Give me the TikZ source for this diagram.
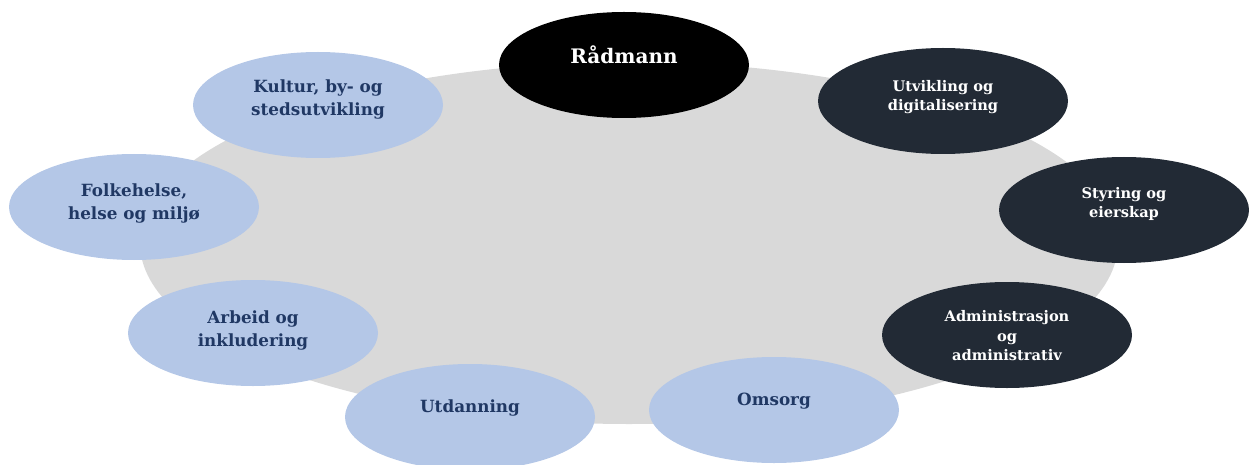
\documentclass[tikz,border=0pt]{standalone}
\usepackage{fontspec}
\setmainfont{DejaVu Serif}
\usepackage{xcolor}
\usetikzlibrary{shapes.geometric, positioning}

\definecolor{ringgrey}{HTML}{D9D9D9}
\definecolor{lightunit}{HTML}{B4C7E7}
\definecolor{darkunit}{HTML}{222A35}
\definecolor{navytext}{HTML}{203864}

\begin{document}
\begin{tikzpicture}[
    x=1pt, y=-1pt,
    unit/.style={ellipse, minimum width=250pt, minimum height=106pt, inner sep=0pt},
    lightunit/.style={unit, fill=lightunit},
    darkunit/.style={unit, fill=darkunit},
    lighttext/.style={align=center, text=navytext, font=\fontsize{16.8}{23}\selectfont\bfseries},
    darktext/.style={align=center, text=white, font=\fontsize{14.6}{19.5}\selectfont\bfseries}
]
\useasboundingbox (0,0) rectangle (1249,465);

% background ring
\node[ellipse, fill=ringgrey, minimum width=978pt, minimum height=362pt, inner sep=0pt] (ring) at (629,243) {};

% top
\node[unit, fill=black] (raadmann) at (624,65) {};
\node[align=center, text=white, font=\fontsize{20}{24}\selectfont\bfseries] (raadmanntxt) at (624,55) {Rådmann};

% staff units (right)
\node[darkunit] (utvikling) at (943,101) {};
\node[darktext] (utviklingtxt) at (943,97) {Utvikling og\\digitalisering};
\node[darkunit] (styring) at (1124,210) {};
\node[darktext] (styringtxt) at (1124,204) {Styring og\\eierskap};
\node[darkunit] (admin) at (1007,335) {};
\node[darktext] (admintxt) at (1007,336) {Administrasjon\\og\\administrativ};

% service areas (left and bottom)
\node[lightunit] (omsorg) at (774,410) {};
\node[lighttext] (omsorgtxt) at (774,401) {Omsorg};
\node[lightunit] (utdanning) at (470,417) {};
\node[lighttext] (utdanningtxt) at (470,408) {Utdanning};
\node[lightunit] (arbeid) at (253,333) {};
\node[lighttext] (arbeidtxt) at (253,330) {Arbeid og\\inkludering};
\node[lightunit] (folkehelse) at (134,207) {};
\node[lighttext] (folkehelsetxt) at (134,203) {Folkehelse,\\helse og miljø};
\node[lightunit] (kultur) at (318,105) {};
\node[lighttext] (kulturtxt) at (318,99) {Kultur, by- og\\stedsutvikling};

\end{tikzpicture}
\end{document}
